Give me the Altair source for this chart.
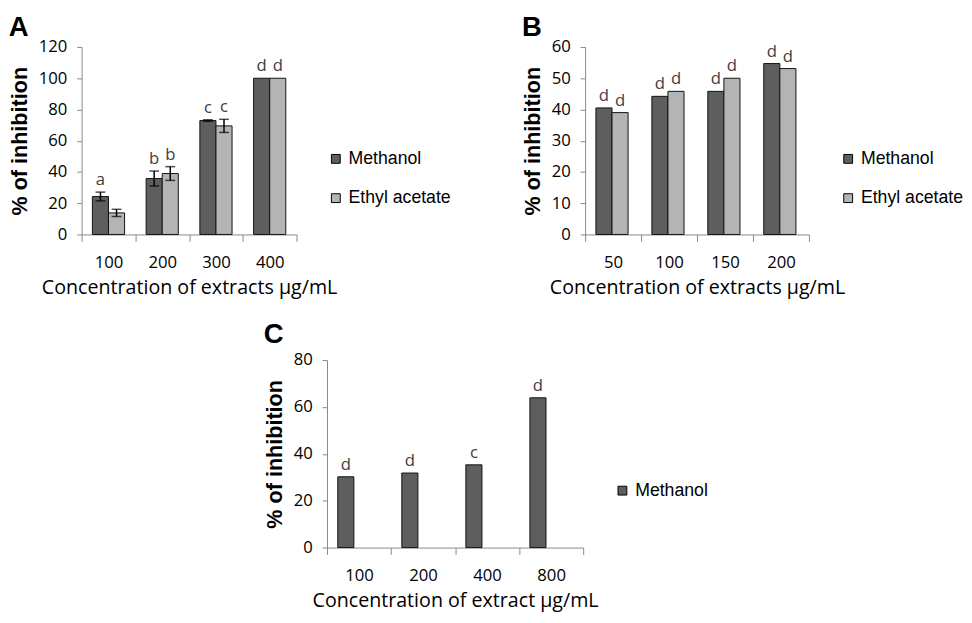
import altair as alt
import pandas as pd

series = ["Methanol", "Ethyl acetate"]
colors = ["#5e5e5e", "#b4b4b4"]

# Panel A
conc_a = ["100", "200", "300", "400"]
meth_a = [24.3, 35.8, 72.9, 100.0]
meth_a_err = [2.8, 4.8, 0.5, 0.0]
eth_a = [13.8, 39.0, 69.5, 100.0]
eth_a_err = [2.3, 4.4, 4.2, 0.0]
meth_a_letter = ["a", "b", "c", "d"]
eth_a_letter = ["", "b", "c", "d"]

# Panel B
conc_b = ["50", "100", "150", "200"]
meth_b = [40.5, 44.2, 45.8, 54.7]
eth_b = [39.0, 45.8, 50.0, 53.1]
meth_b_letter = ["d", "d", "d", "d"]
eth_b_letter = ["d", "d", "d", "d"]

# Panel C
conc_c = ["100", "200", "400", "800"]
meth_c = [30.2, 31.8, 35.3, 63.9]
meth_c_letter = ["d", "d", "c", "d"]


def table(conc, groups):
    rows = []
    for name, vals, errs, letters in groups:
        for c, v, e, l in zip(conc, vals, errs, letters):
            rows.append({"conc": c, "series": name, "val": v, "err": e,
                         "lo": v - e, "hi": v + e, "top": v + e, "letter": l})
    return pd.DataFrame(rows)


df_a = table(conc_a, [("Methanol", meth_a, meth_a_err, meth_a_letter),
                      ("Ethyl acetate", eth_a, eth_a_err, eth_a_letter)])
df_b = table(conc_b, [("Methanol", meth_b, [0] * 4, meth_b_letter),
                      ("Ethyl acetate", eth_b, [0] * 4, eth_b_letter)])
df_c = table(conc_c, [("Methanol", meth_c, [0] * 4, meth_c_letter)])

YT = "% of inhibition"


def panel(df, conc, names, letter, xtitle, ymax, ystep, w, pad, legdrop,
          legoff, legpad, toff):
    xenc = alt.X("conc:N", sort=conc, title=xtitle,
                 scale=alt.Scale(paddingInner=0, paddingOuter=0))
    xoff = alt.XOffset("series:N", sort=names,
                       scale=alt.Scale(domain=names, paddingInner=0, paddingOuter=pad))
    ysc = alt.Scale(domain=[0, ymax], nice=False)
    yaxis = alt.Axis(values=list(range(0, ymax + 1, ystep)))
    base = alt.Chart(df).encode(x=xenc, xOffset=xoff)
    bars = base.mark_bar(stroke="#111111", strokeWidth=1).encode(
        y=alt.Y("val:Q", scale=ysc, axis=yaxis, title=YT),
        color=alt.Color("series:N",
                        scale=alt.Scale(domain=names, range=colors[:len(names)]),
                        legend=alt.Legend(title=" ", orient="right", offset=legoff,
                                          padding=legpad, titleFontSize=1,
                                          titlePadding=legdrop)),
    )
    ebase = base.transform_filter("datum.err > 0")
    rule = ebase.mark_rule(color="black", strokeWidth=1.5).encode(
        y=alt.Y("lo:Q", scale=ysc, axis=yaxis, title=YT), y2="hi:Q")
    cap_lo = ebase.mark_tick(color="black", orient="horizontal", size=10,
                             thickness=1.5).encode(
        y=alt.Y("lo:Q", scale=ysc, axis=yaxis, title=YT))
    cap_hi = ebase.mark_tick(color="black", orient="horizontal", size=10,
                             thickness=1.5).encode(
        y=alt.Y("hi:Q", scale=ysc, axis=yaxis, title=YT))
    text = base.mark_text(dy=-12, font="Open Sans", fontSize=17,
                          color="#404040").encode(
        y=alt.Y("top:Q", scale=ysc, axis=yaxis, title=YT), text="letter:N")
    return alt.layer(bars, rule, cap_lo, cap_hi, text).properties(
        width=w, height=191,
        title=alt.TitleParams(text=letter, anchor="start", font="Liberation Sans",
                              fontSize=28, fontWeight="bold", color="black",
                              offset=toff),
    )


a = panel(df_a, conc_a, series, "A", "Concentration of extracts µg/mL",
          120, 20, 219, 0.67, 104, 31, 0, -4)
b = panel(df_b, conc_b, series, "B", "Concentration of extracts µg/mL",
          60, 10, 228, 0.78, 104, 31, 0, -4)
c = panel(df_c, conc_c, ["Methanol"], "C", "Concentration of extract µg/mL",
          80, 20, 261, 0.70, 113, 21, 10, 2)

top = alt.hconcat(a, b, spacing=71).resolve_scale(color="independent")
chart = alt.vconcat(top, c, spacing=25, center=True).resolve_scale(
    color="independent"
).properties(
    padding={"left": 0, "top": 1, "right": 0, "bottom": 0}
).configure_view(stroke=None).configure_axis(
    labelFont="Open Sans", labelFontSize=17, labelColor="black",
    domainColor="#888888", tickColor="#888888", grid=False,
).configure_axisX(
    tickSize=7, tickBand="extent", labelAngle=0, labelPadding=14,
    titleFont="Open Sans", titleFontSize=20, titleFontWeight="normal",
    titleColor="black", titlePadding=7,
).configure_axisY(
    tickSize=5, labelPadding=10, titleFont="Liberation Sans", titleFontSize=22,
    titleFontWeight="bold", titleColor="black", titlePadding=7,
).configure_legend(
    labelFont="Liberation Sans", labelFontSize=18, labelColor="black",
    symbolType="square", symbolSize=81, symbolStrokeColor="black",
    symbolStrokeWidth=1, rowPadding=22, labelOffset=4, padding=0,
)

chart.save("out.html", embed_options={"renderer": "svg", "actions": False})
